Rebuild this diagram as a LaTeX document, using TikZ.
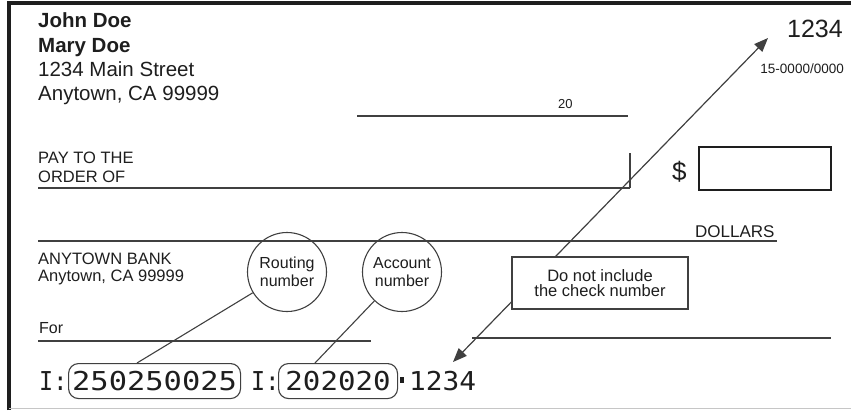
\documentclass[tikz,border=0pt]{standalone}
\usepackage{fontspec}
\usepackage{graphicx}
\setmainfont{Liberation Sans}
\newfontfamily\micrfont{DejaVu Sans Mono}
\usetikzlibrary{arrows.meta}
\definecolor{ink}{HTML}{1E1E1E}
\begin{document}
\begin{tikzpicture}[x=1pt,y=-1pt,
  txt/.style={inner sep=0pt, anchor=base west, text=ink},
  rule/.style={draw=ink!85, line width=1.2pt},
  bubble/.style={circle, draw=ink!85, line width=1.1pt, minimum size=79pt, inner sep=0pt, align=center, text=ink, font=\fontsize{16}{18}\selectfont},
  micrbox/.style={draw=ink!85, line width=1.1pt, rounded corners=10pt, minimum height=35pt, inner sep=0pt, anchor=north west, text=ink},
  >={Triangle[length=14pt,width=11pt]}
]
\useasboundingbox (0,0) rectangle (851,410);
% frame
\draw[draw=ink, line width=3.5pt] (9,410) -- (9,3) -- (851,3);
\draw[draw=gray!45, line width=1pt] (9,408) -- (851,408);

% owner block
\node (n1) [txt, font=\fontsize{20.5}{25}\selectfont\bfseries] at (38,27) {John Doe};
\node (n2) [txt, font=\fontsize{20.5}{25}\selectfont\bfseries] at (38,52) {Mary Doe};
\node (n3) [txt, font=\fontsize{20.5}{25}\selectfont] at (38,76) {1234 Main Street};
\node (n4) [txt, font=\fontsize{20.5}{25}\selectfont] at (38,100) {Anytown, CA 99999};

% check number
\node (num) [inner sep=0pt, anchor=base east, text=ink, font=\fontsize{25}{25}\selectfont] at (843,37) {1234};
\node (fr) [inner sep=0pt, anchor=base east, text=ink, font=\fontsize{13.5}{14}\selectfont] at (844,73) {15-0000/0000};

% date
\node (twenty) [txt, font=\fontsize{13}{14}\selectfont] at (558,108) {20};
\draw[rule] (357,116) -- (628,116);

% pay to
\node (pay1) [txt, font=\fontsize{16.5}{18}\selectfont] at (38,163) {PAY TO THE};
\node (pay2) [txt, font=\fontsize{16.5}{18}\selectfont] at (38,182) {ORDER OF};
\draw[rule] (38,188) -- (630,188);
\draw[rule] (630,153) -- (630,188);
\node (dollar) [txt, font=\fontsize{26}{26}\selectfont] at (672,180) {\$};
\node (amount) [draw=ink, line width=2.4pt, minimum width=132pt, minimum height=43pt, inner sep=0pt, anchor=north west] at (698,146) {};

% dollars line
\node (dollars) [txt, font=\fontsize{17}{18}\selectfont] at (695,237) {DOLLARS};
\draw[rule] (38,241) -- (777,241);

% bank
\node (bank1) [txt, font=\fontsize{16.5}{18}\selectfont] at (38,264) {ANYTOWN BANK};
\node (bank2) [txt, font=\fontsize{16.5}{18}\selectfont] at (38,281) {Anytown, CA 99999};

% memo
\node (for) [txt, font=\fontsize{16}{18}\selectfont] at (39,333) {For};
\draw[rule] (38,341) -- (371,341);
\draw[rule] (472,338) -- (831,338);

% MICR line
\node (t1) [txt, font=\fontsize{26}{26}\selectfont\micrfont] at (39,390) {\scalebox{0.9}[1]{I:}};
\node (micrA) [micrbox, minimum width=172pt, font=\fontsize{26}{26}\selectfont\micrfont] at (68,363) {\scalebox{1.17}[1]{250250025}};
\node (t2) [txt, font=\fontsize{26}{26}\selectfont\micrfont] at (251,390) {\scalebox{0.9}[1]{I:}};
\node (micrB) [micrbox, minimum width=119pt, font=\fontsize{26}{26}\selectfont\micrfont] at (278,363) {\scalebox{1.12}[1]{202020}};
\node (dot) [fill=ink, minimum width=4pt, minimum height=6pt, inner sep=0pt] at (402,380) {};
\node (chk) [txt, font=\fontsize{26}{26}\selectfont\micrfont] at (409,390) {\scalebox{1.07}[1]{1234}};

% callout arrow (passes behind the note)
\coordinate (tipB) at (453,362);
\coordinate (tipT) at (768,38);
\draw[rule, <->] (tipB) -- (tipT);
\node (note) [draw=ink!85, fill=white, line width=1.1pt, minimum width=176pt, minimum height=52pt, inner sep=0pt, align=center, text=ink, font=\fontsize{16.5}{15.5}\selectfont] at (600,283) {Do not include\\the check number};

% bubbles
\node (rout) [bubble] at (287,272) {Routing\\number};
\node (acct) [bubble] at (402,272) {Account\\number};
\coordinate (rA) at (137,363);
\coordinate (aA) at (315,363);
\draw[rule, line width=1.1pt] (rout) -- (rA);
\draw[rule, line width=1.1pt] (acct) -- (aA);
\end{tikzpicture}
\end{document}
